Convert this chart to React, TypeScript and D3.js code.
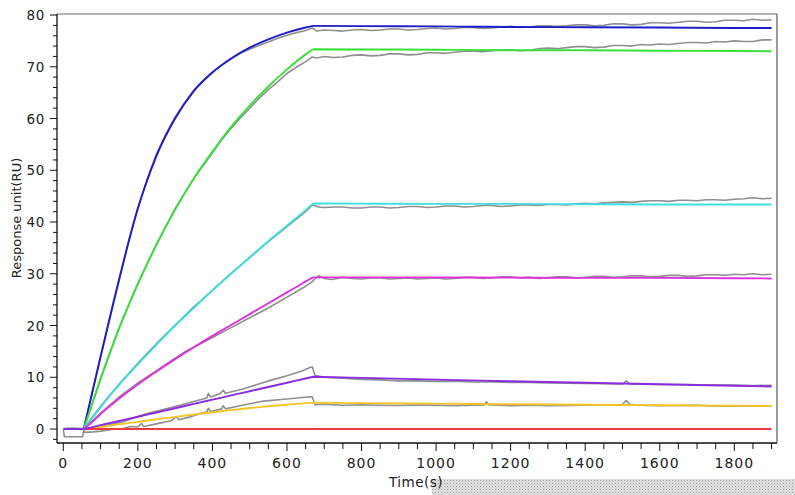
import React from 'react';
import * as d3 from 'd3';

// ---- Data ----
const FIT_TIME = [0, 55, 75, 100, 150, 200, 250, 300, 350, 400, 450, 500, 550, 600, 650, 670, 800, 1000, 1200, 1400, 1600, 1800, 1900];
const FIT_BLUE = [0, 0, 6.3, 14.0, 29.0, 42.6, 52.8, 60.0, 65.3, 68.9, 71.6, 73.7, 75.3, 76.6, 77.6, 77.9, 77.85, 77.8, 77.7, 77.65, 77.6, 77.5, 77.5];
const FIT_GREEN = [0, 0, 4.4, 9.75, 19.5, 28.0, 35.6, 42.4, 48.4, 53.6, 58.4, 62.5, 66.2, 69.5, 72.4, 73.4, 73.35, 73.3, 73.2, 73.2, 73.1, 73.05, 73.0];
const FIT_CYAN = [0, 0, 1.85, 4.2, 8.6, 12.5, 16.3, 20.0, 23.4, 26.8, 30.0, 33.2, 36.3, 39.3, 42.3, 43.6, 43.55, 43.5, 43.5, 43.45, 43.4, 43.4, 43.4];
const FIT_MAGENTA = [0, 0, 1.2, 2.9, 5.9, 8.6, 11.1, 13.5, 15.8, 18.0, 20.1, 22.2, 24.3, 26.4, 28.5, 29.3, 29.3, 29.3, 29.25, 29.2, 29.2, 29.15, 29.1];
const FIT_PURPLE = [0, 0, 0.33, 0.74, 1.56, 2.38, 3.2, 4.02, 4.85, 5.67, 6.49, 7.31, 8.13, 8.95, 9.77, 10.1, 9.88, 9.55, 9.24, 8.94, 8.65, 8.37, 8.23];
const FIT_YELLOW = [0, 0, 0.18, 0.4, 0.9, 1.4, 1.9, 2.35, 2.8, 3.25, 3.65, 4.05, 4.4, 4.7, 5.0, 5.1, 5.0, 4.9, 4.8, 4.7, 4.6, 4.5, 4.45];
const FIT_RED = [NaN, 0, 0, 0, 0, 0, 0, 0, 0, 0, 0, 0, 0, 0, 0, 0, 0, 0, 0, 0, 0, 0, 0];

const DATA_BLUE: [number, number][] = [[0,0.1],[20,0.2],[50,0.1],[55,0.2],[75,6.1],[100,13.9],[125,21.4],[150,28.8],[175,36.3],[200,42.8],[225,48.2],[250,53.2],[275,57.0],[300,60.3],[325,63.0],[350,65.5],[375,67.4],[400,69.0],[425,70.3],[450,71.5],[475,72.6],[500,73.4],[525,74.1],[550,74.8],[575,75.5],[600,76.1],[625,76.6],[650,77.0],[668,77.5],[680,76.9],[700,77.1],[725,77.0],[750,76.9],[775,77.1],[800,77.2],[825,77.0],[850,77.1],[875,77.3],[900,77.3],[925,77.1],[950,77.2],[975,77.4],[1000,77.5],[1025,77.3],[1050,77.4],[1075,77.6],[1100,77.6],[1125,77.4],[1150,77.5],[1175,77.7],[1200,77.8],[1225,77.6],[1250,77.7],[1275,77.9],[1300,77.9],[1325,77.8],[1350,77.9],[1375,78.1],[1400,78.1],[1425,77.9],[1450,78.0],[1475,78.3],[1500,78.3],[1525,78.1],[1550,78.2],[1575,78.5],[1600,78.5],[1625,78.4],[1650,78.6],[1675,78.8],[1700,78.8],[1725,78.6],[1750,78.7],[1775,79.0],[1800,79.0],[1825,78.9],[1850,79.2],[1875,79.0],[1900,79.1]];
const DATA_GREEN: [number, number][] = [[0,0],[55,0.1],[75,4.3],[100,9.6],[150,19.6],[200,28.2],[250,35.8],[300,42.6],[350,48.4],[400,53.4],[425,55.9],[450,58.1],[475,60.1],[500,62.0],[525,63.9],[550,65.6],[575,67.1],[600,68.7],[625,69.9],[650,71.0],[668,71.9],[680,71.7],[700,72.0],[725,71.8],[750,71.9],[775,72.2],[800,72.3],[825,72.1],[850,72.2],[875,72.5],[900,72.5],[925,72.3],[950,72.4],[975,72.7],[1000,72.7],[1025,72.6],[1050,72.8],[1075,73.0],[1100,73.0],[1125,72.9],[1150,73.1],[1175,73.3],[1200,73.3],[1225,73.1],[1250,73.2],[1275,73.5],[1300,73.6],[1325,73.5],[1350,73.7],[1375,73.9],[1400,73.9],[1425,73.7],[1450,73.8],[1475,74.1],[1500,74.1],[1525,74.0],[1550,74.3],[1575,74.2],[1600,74.4],[1625,74.3],[1650,74.5],[1675,74.7],[1700,74.7],[1725,74.6],[1750,74.9],[1775,74.8],[1800,75.0],[1825,74.9],[1850,74.9],[1875,75.2],[1900,75.2]];
const DATA_CYAN: [number, number][] = [[0,0],[55,0.1],[100,4.4],[150,8.7],[200,12.7],[250,16.5],[300,20.1],[350,23.6],[400,26.8],[450,30.1],[500,33.1],[550,36.2],[600,39.1],[650,42.0],[668,43.3],[685,42.9],[700,42.8],[725,42.9],[750,42.9],[775,42.7],[800,42.7],[825,42.9],[850,42.9],[875,42.7],[900,42.8],[925,43.0],[950,43.0],[975,42.8],[1000,42.9],[1025,43.1],[1050,43.1],[1075,42.9],[1100,43.0],[1125,43.2],[1150,43.2],[1175,43.0],[1200,43.1],[1225,43.3],[1250,43.3],[1275,43.2],[1300,43.4],[1325,43.4],[1350,43.3],[1375,43.5],[1400,43.6],[1425,43.5],[1450,43.7],[1475,43.8],[1500,43.9],[1525,43.8],[1550,44.0],[1575,44.1],[1600,44.1],[1625,44.0],[1650,44.2],[1675,44.2],[1700,44.1],[1725,44.3],[1750,44.3],[1775,44.2],[1800,44.4],[1825,44.5],[1850,44.7],[1875,44.5],[1900,44.6]];
const DATA_MAGENTA: [number, number][] = [[0,0],[55,0],[100,3.1],[150,6.2],[200,8.9],[250,11.3],[300,13.7],[330,15.1],[350,15.8],[400,17.7],[450,19.6],[500,21.5],[550,23.4],[600,25.5],[650,27.6],[665,28.3],[675,29.0],[685,29.6],[700,29.1],[720,28.9],[750,29.3],[775,29.1],[800,29.0],[825,29.2],[850,29.2],[875,29.0],[900,29.1],[925,29.2],[950,29.0],[975,29.1],[1000,29.2],[1025,29.0],[1050,29.1],[1075,29.3],[1100,29.3],[1125,29.1],[1150,29.2],[1175,29.4],[1200,29.4],[1225,29.2],[1250,29.3],[1275,29.1],[1300,29.2],[1325,29.4],[1350,29.4],[1375,29.2],[1400,29.3],[1425,29.5],[1450,29.5],[1475,29.3],[1500,29.4],[1525,29.6],[1550,29.6],[1575,29.4],[1600,29.5],[1625,29.7],[1650,29.7],[1675,29.5],[1700,29.6],[1725,29.8],[1750,29.8],[1775,29.7],[1800,29.9],[1825,29.8],[1850,30.0],[1875,29.8],[1900,29.9]];
const DATA_PURPLE: [number, number][] = [[0,0],[55,0],[100,0.5],[130,0.9],[161,1.4],[200,2.4],[224,3.0],[260,3.6],[313,4.6],[350,5.3],[385,6.0],[389,6.9],[395,6.2],[420,6.8],[429,7.5],[435,6.9],[440,7.0],[480,7.7],[520,8.6],[560,9.5],[600,10.3],[640,11.2],[662,11.9],[668,12.0],[675,10.4],[700,10.0],[750,9.8],[800,9.6],[850,9.5],[900,9.3],[950,9.3],[1000,9.2],[1050,9.25],[1100,9.1],[1150,9.1],[1200,9.0],[1250,9.0],[1300,8.9],[1350,8.85],[1400,8.8],[1450,8.75],[1500,8.7],[1510,9.3],[1520,8.7],[1550,8.65],[1600,8.6],[1650,8.6],[1700,8.55],[1750,8.5],[1800,8.5],[1850,8.4],[1900,8.45]];
const DATA_YELLOW: [number, number][] = [[0,0],[3,-1.5],[52,-1.5],[55,-0.2],[58,-0.65],[80,-0.55],[100,-0.4],[130,-0.1],[161,0.1],[180,0.5],[200,0.4],[210,1.1],[215,0.5],[250,1.0],[290,1.6],[304,2.4],[310,1.8],[343,2.4],[385,3.35],[389,4.0],[395,3.4],[425,3.9],[429,4.5],[435,3.9],[480,4.6],[537,5.4],[600,5.8],[662,6.25],[668,6.2],[675,4.7],[700,4.8],[750,4.6],[800,4.7],[850,4.6],[900,4.55],[950,4.65],[1000,4.6],[1050,4.5],[1100,4.6],[1130,4.65],[1135,5.3],[1140,4.7],[1200,4.5],[1250,4.6],[1300,4.5],[1350,4.55],[1400,4.6],[1450,4.7],[1500,4.75],[1510,5.5],[1520,4.8],[1550,4.6],[1600,4.5],[1650,4.55],[1700,4.6],[1750,4.4],[1800,4.45],[1850,4.5],[1900,4.4]];

const X_TICKS = [0, 200, 400, 600, 800, 1000, 1200, 1400, 1600, 1800];
const X_MINOR = d3.range(0, 1901, 50);
const Y_TICKS = [0, 10, 20, 30, 40, 50, 60, 70, 80];
const Y_MINOR = d3.range(-2, 81, 2);
const X_TITLE = 'Time(s)';
const Y_TITLE = 'Response unit(RU)';

const FITS = [
  { v: FIT_BLUE, c: '#1c1cc8' },
  { v: FIT_GREEN, c: '#38e038' },
  { v: FIT_CYAN, c: '#3ddede' },
  { v: FIT_MAGENTA, c: '#e02ee0' },
  { v: FIT_YELLOW, c: '#f2c42a' },
  { v: FIT_RED, c: '#ee3b3b' },
  { v: FIT_PURPLE, c: '#8a2be2' },
];
const GRAYS = [DATA_BLUE, DATA_GREEN, DATA_CYAN, DATA_MAGENTA, DATA_PURPLE, DATA_YELLOW];

const W = 795, H = 495;
const L = 57, R = 777, T = 14, B = 443;
const x = d3.scaleLinear().domain([0, 1800]).range([63.3, 734.3]);
const y = d3.scaleLinear().domain([-2.7, 80.2]).range([B, T]);

const fitLine = d3.line<[number, number]>().x(d => x(d[0])).y(d => y(d[1])).curve(d3.curveMonotoneX);
const grayLine = d3.line<[number, number]>().x(d => x(d[0])).y(d => y(d[1]));

function fitPath(values: number[]) {
  const pts = FIT_TIME.map((t, i) => [t, values[i]] as [number, number]).filter(p => !isNaN(p[1]));
  const phases = [[0, 55], [55, 670], [670, 1900]];
  return phases.map(([a, b]) => {
    const seg = pts.filter(p => p[0] >= a && p[0] <= b);
    return seg.length > 1 ? fitLine(seg) || '' : '';
  }).join('');
}

const FONT = '"DejaVu Sans", sans-serif';

export default function App() {
  return (
    <svg width={W} height={H} style={{ position: 'absolute', left: 0, top: 0, background: '#fff' }} fontFamily={FONT}>
      <defs>
        <pattern id="dots" width="3" height="3" patternUnits="userSpaceOnUse">
          <rect width="3" height="3" fill="#e2e2e2" />
          <rect width="1" height="1" fill="#9c9c9c" />
          <rect x="1.5" y="1.5" width="1" height="1" fill="#b8b8b8" />
        </pattern>
        <clipPath id="plot"><rect x={L} y={T} width={R - L} height={B - T} /></clipPath>
      </defs>
      <rect x={0} y={0} width={W} height={H} fill="#fff" />

      <g clipPath="url(#plot)">
        {GRAYS.map((g, i) => (
          <path key={'g' + i} d={grayLine(g) || ''} fill="none" stroke="#8f8f8f" strokeWidth={1.6} strokeLinejoin="round" />
        ))}
        {FITS.map((f, i) => (
          <path key={'f' + i} d={fitPath(f.v)} fill="none" stroke={f.c} strokeWidth={1.9} strokeLinejoin="round" />
        ))}
      </g>

      {/* frame */}
      <line x1={L} x2={R} y1={T} y2={T} stroke="#9a9a9a" strokeWidth={1.5} />
      <line x1={R} x2={R} y1={T} y2={B} stroke="#555" strokeWidth={1.2} />
      <line x1={L} x2={L} y1={T} y2={B} stroke="#111" strokeWidth={1.3} />
      <line x1={L} x2={R} y1={B} y2={B} stroke="#111" strokeWidth={1.3} />

      {/* y ticks */}
      {Y_MINOR.map(v => (
        <line key={'ym' + v} x1={L} x2={L - (v % 10 === 0 ? 7 : 4)} y1={y(v)} y2={y(v)} stroke="#111" strokeWidth={1} />
      ))}
      {Y_TICKS.map(v => (
        <text key={'yt' + v} x={45} y={y(v) + 5} textAnchor="end" fontSize={13.5} letterSpacing={0.6} fill="#222">{v}</text>
      ))}

      {/* x ticks */}
      {X_MINOR.map(v => (
        <line key={'xm' + v} x1={x(v)} x2={x(v)} y1={B} y2={B + (v % 200 === 0 ? 8 : 6)} stroke="#111" strokeWidth={1} />
      ))}
      {X_TICKS.map(v => (
        <text key={'xt' + v} x={x(v)} y={468} textAnchor="middle" fontSize={14} letterSpacing={1} fill="#222">{v}</text>
      ))}

      {/* dotted box */}
      <rect x={432} y={479} width={W - 432} height={H - 479} fill="url(#dots)" />

      <text x={389} y={487} fontSize={13.5} letterSpacing={0.5} fill="#222">{X_TITLE}</text>
      <text transform="translate(21,218) rotate(-90)" textAnchor="middle" fontSize={13} fill="#222">{Y_TITLE}</text>
    </svg>
  );
}
